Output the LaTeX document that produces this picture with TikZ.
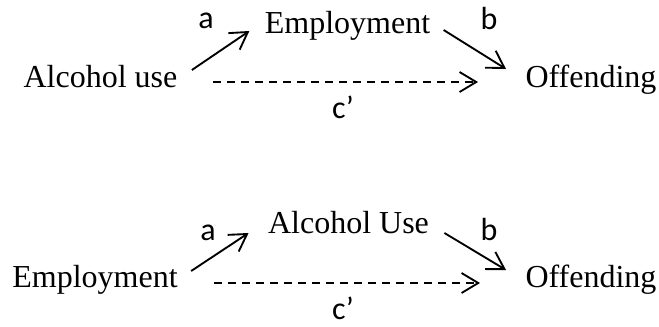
\documentclass[tikz,border=0pt]{standalone}
\usepackage{fontspec}
\setmainfont{Liberation Serif}
\newfontfamily\lblfont{Carlito}
\usetikzlibrary{arrows.meta}

\tikzset{every picture/.style={line width=0.75pt}}
\tikzset{
  varname/.style={font=\fontsize{24}{28}\selectfont, inner sep=0pt, anchor=base},
  pathlbl/.style={font=\lblfont\fontsize{24}{28}\selectfont, inner sep=0pt, anchor=base},
  patharrow/.style={line width=1.4pt, -{Straight Barb[length=12.5pt,width=15pt]}},
  directarrow/.style={patharrow, dash pattern=on 6pt off 4.5pt}
}

\begin{document}
\begin{tikzpicture}[x=0.75pt,y=0.75pt,yscale=-1,xscale=1]
	\useasboundingbox (0,0) rectangle (659,326); %diagram is 659 wide, 326 high

	%%% upper model
	% Text Node
	\node[varname] (alc) at (100.5,87) {Alcohol use};
	% Text Node
	\node[varname] (emp) at (347.5,33) {Employment};
	% Text Node
	\node[varname] (off) at (591,87) {Offending};

	%Straight Lines [a]
	\draw[patharrow] ([shift={(14,-17)}]alc.base east) -- ([shift={(-15,-2)}]emp.base west);
	%Straight Lines [b]
	\draw[patharrow] ([shift={(13,-3)}]emp.base east) -- ([shift={(-19,-18)}]off.base west);
	%Dashed Lines [c']
	\draw[directarrow] ([shift={(35,-5)}]alc.base east) -- ([shift={(-47,-5)}]off.base west);

	% Text Node
	\node[pathlbl] (la) at (206,28) {a};
	% Text Node
	\node[pathlbl] (lb) at (489,29) {b};
	% Text Node
	\node[pathlbl] (lc) at (343,118) {c’};

	%%% lower model
	% Text Node
	\node[varname] (emptwo) at (95,287) {Employment};
	% Text Node
	\node[varname] (alctwo) at (348.5,233) {Alcohol Use};
	% Text Node
	\node[varname] (offtwo) at (591,287) {Offending};

	%Straight Lines [a]
	\draw[patharrow] ([shift={(13,-16)}]emptwo.base east) -- ([shift={(-19,0)}]alctwo.base west);
	%Straight Lines [b]
	\draw[patharrow] ([shift={(15,0)}]alctwo.base east) -- ([shift={(-19,-17)}]offtwo.base west);
	%Dashed Lines [c']
	\draw[directarrow] ([shift={(36,-4)}]emptwo.base east) -- ([shift={(-45,-4)}]offtwo.base west);

	% Text Node
	\node[pathlbl] (latwo) at (208,240) {a};
	% Text Node
	\node[pathlbl] (lbtwo) at (489,240) {b};
	% Text Node
	\node[pathlbl] (lctwo) at (343,319) {c’};

\end{tikzpicture}
\end{document}
